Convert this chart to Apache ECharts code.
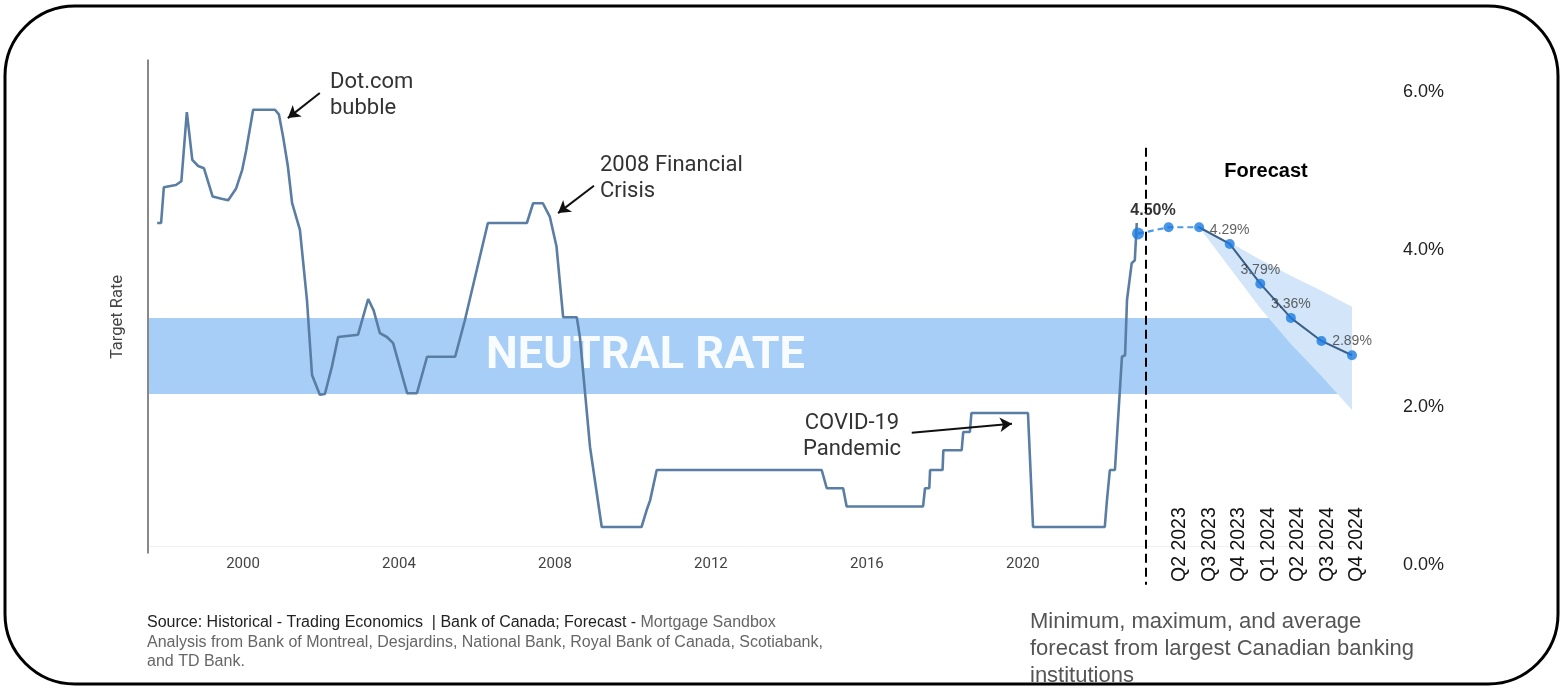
<!DOCTYPE html>
<html>
<head>
<meta charset="utf-8">
<script src="https://cdn.jsdelivr.net/npm/echarts@6/dist/echarts.min.js"></script>
<style>
html,body{margin:0;padding:0;background:#fff;}
#chart{width:1563px;height:688px;}
</style>
</head>
<body>
<div id="chart"></div>
<script>
// ---------- DATA ----------
const histYears = [1997.80, 1997.90, 1997.97, 1998.28, 1998.42, 1998.56, 1998.70, 1998.85, 1999.00, 1999.22, 1999.45, 1999.62, 1999.82, 1999.98, 2000.08, 2000.26, 2000.82, 2000.92, 2001.03, 2001.15, 2001.26, 2001.46, 2001.64, 2001.77, 2001.97, 2002.10, 2002.28, 2002.44, 2002.95, 2003.21, 2003.35, 2003.51, 2003.69, 2003.85, 2004.21, 2004.46, 2004.72, 2005.44, 2005.69, 2005.85, 2006.28, 2007.28, 2007.44, 2007.69, 2007.87, 2008.04, 2008.21, 2008.56, 2008.64, 2008.90, 2009.20, 2010.22, 2010.35, 2010.44, 2010.61, 2014.84, 2014.97, 2015.39, 2015.48, 2017.44, 2017.49, 2017.60, 2017.62, 2017.94, 2017.96, 2018.43, 2018.47, 2018.64, 2018.68, 2020.13, 2020.26, 2022.10, 2022.15, 2022.23, 2022.36, 2022.54, 2022.62, 2022.67, 2022.79, 2022.87, 2022.92];
const histRates = [4.25, 4.25, 4.72, 4.75, 4.80, 5.71, 5.08, 5.00, 4.97, 4.60, 4.57, 4.55, 4.70, 4.95, 5.20, 5.74, 5.74, 5.68, 5.38, 5.00, 4.51, 4.16, 3.24, 2.25, 1.99, 2.00, 2.36, 2.75, 2.78, 3.25, 3.10, 2.80, 2.75, 2.67, 2.01, 2.01, 2.49, 2.49, 2.97, 3.32, 4.25, 4.25, 4.51, 4.51, 4.33, 3.94, 3.01, 3.01, 2.75, 1.30, 0.25, 0.25, 0.47, 0.60, 1.00, 1.00, 0.76, 0.76, 0.52, 0.52, 0.76, 0.76, 1.00, 1.00, 1.26, 1.26, 1.50, 1.50, 1.75, 1.75, 0.25, 0.25, 0.57, 1.00, 1.00, 2.49, 2.51, 3.24, 3.72, 3.76, 4.25];
const yearTicks = [2000, 2004, 2008, 2012, 2016, 2020];
const neutralRange = [2, 3];
const forecastStartYear = 2023.15;

const forecastCats = ['Q1 2023', 'Q2 2023', 'Q3 2023', 'Q4 2023', 'Q1 2024', 'Q2 2024', 'Q3 2024', 'Q4 2024'];
const quarterLabels = ['Q2 2023', 'Q3 2023', 'Q4 2023', 'Q1 2024', 'Q2 2024', 'Q3 2024', 'Q4 2024'];
const forecastAvg = [4.42, 4.50, 4.50, 4.29, 3.79, 3.36, 3.07, 2.89];
const forecastMax = ['-', '-', 4.50, 4.31, 4.09, 3.89, 3.70, 3.50];
const forecastMin = ['-', '-', 4.50, 3.99, 3.48, 3.03, 2.63, 2.20];
const forecastLabels = ['4.50%', '', '', '4.29%', '3.79%', '3.36%', '', '2.89%'];
const rightTicks = [0, 2, 4, 6];

// ---------- BUILD ----------
const histData = histYears.map((y, i) => [y, histRates[i]]);
const bandSpan = forecastMax.map((v, i) => v === '-' ? '-' : +(v - forecastMin[i]).toFixed(2));
const dashedPart = forecastAvg.map((v, i) => i <= 2 ? v : '-');
const solidPart = forecastAvg.map((v, i) => i >= 2 ? v : '-');

const X_MIN = 1997.564, X_MAX = 2028.26;
const SANS = '"Liberation Sans", Arial, sans-serif';
const ROB = 'Roboto, "Liberation Sans", sans-serif';

const chart = echarts.init(document.getElementById('chart'), null, {renderer: 'canvas'});

const option = {
  animation: false,
  backgroundColor: '#ffffff',
  grid: [
    {left: 148, right: 218, top: 59.6, bottom: 96.4, containLabel: false, outerBoundsMode: 'none'},
    {left: 1138, right: 211, top: 108, bottom: 103, containLabel: false, outerBoundsMode: 'none'},
    {left: 1180, right: 206, top: 400, bottom: 103, containLabel: false, outerBoundsMode: 'none'},
    {left: 1395, right: 167, top: 92, bottom: 123, containLabel: false, outerBoundsMode: 'none'}
  ],
  xAxis: [
    {type: 'value', gridIndex: 0, min: X_MIN, max: X_MAX, position: 'bottom', offset: -45.6,
     axisLine: {show: true, onZero: false, lineStyle: {color: '#f0f0f0', width: 1}},
     axisTick: {show: false}, splitLine: {show: false},
     axisLabel: {show: true, customValues: yearTicks, margin: 11, fontSize: 15, color: '#444', fontFamily: ROB,
                 formatter: v => String(Math.round(v))}},
    {type: 'category', gridIndex: 1, data: forecastCats, boundaryGap: false,
     axisLine: {show: false}, axisTick: {show: false}, axisLabel: {show: false}, splitLine: {show: false}},
    {type: 'category', gridIndex: 2, data: quarterLabels, boundaryGap: false,
     axisLine: {show: false}, axisTick: {show: false}, splitLine: {show: false},
     axisLabel: {show: true, inside: true, rotate: 90, margin: 3, fontSize: 19.5, color: '#111', fontFamily: SANS, interval: 0}},
    {type: 'value', gridIndex: 3, show: false, min: 0, max: 1}
  ],
  yAxis: [
    {type: 'value', gridIndex: 0, min: -0.6, max: 6.4, show: false},
    {type: 'value', gridIndex: 1, min: 0, max: 6, show: false},
    {type: 'value', gridIndex: 2, min: 0, max: 1, show: false},
    {type: 'value', gridIndex: 3, min: 0, max: 6, interval: 2, position: 'right',
     axisLine: {show: false}, axisTick: {show: false}, splitLine: {show: false},
     axisLabel: {show: true, margin: 7, fontSize: 18, color: '#222', fontFamily: SANS,
                 formatter: v => v.toFixed(1) + '%'}}
  ],
  series: [
    {
      name: 'Target Rate', type: 'line', xAxisIndex: 0, yAxisIndex: 0, data: histData,
      symbol: 'none', z: 3,
      lineStyle: {color: '#5a7ea3', width: 2.6},
      markArea: {
        silent: true, z: 1,
        itemStyle: {color: '#a6cef7'},
        label: {show: true, position: 'inside', offset: [-101, 1], formatter: '{b}',
                color: 'rgba(255,255,255,0.93)', fontSize: 45, fontWeight: 'bold', fontFamily: ROB},
        data: [[{name: 'NEUTRAL RATE', yAxis: neutralRange[0]}, {yAxis: neutralRange[1]}]]
      },
      markLine: {
        silent: true, symbolSize: [11, 12], label: {show: false}, z: 8,
        data: [
          [{coord: [2001.97, 5.96], symbol: 'none', lineStyle: {color: '#111', width: 2, type: 'solid'}},
           {coord: [2001.15, 5.63], symbol: 'arrow'}],
          [{coord: [2009.00, 4.74], symbol: 'none', lineStyle: {color: '#111', width: 2, type: 'solid'}},
           {coord: [2008.08, 4.38], symbol: 'arrow'}],
          [{coord: [2017.15, 1.49], symbol: 'none', lineStyle: {color: '#111', width: 2, type: 'solid'}},
           {coord: [2019.72, 1.61], symbol: 'arrow'}],
          [{coord: [forecastStartYear, 5.24], symbol: 'none', lineStyle: {color: '#000', width: 2, type: [9, 5]}},
           {coord: [forecastStartYear, -0.51], symbol: 'none'}],
          [{coord: [X_MIN, 6.4], symbol: 'none', lineStyle: {color: '#888', width: 2, type: 'solid'}},
           {coord: [X_MIN, -0.1], symbol: 'none'}]
        ]
      }
    },
    {
      name: 'Forecast min', type: 'line', xAxisIndex: 1, yAxisIndex: 1, stack: 'band',
      data: forecastMin, symbol: 'none', z: 4, lineStyle: {width: 0, opacity: 0}
    },
    {
      name: 'Forecast range', type: 'line', xAxisIndex: 1, yAxisIndex: 1, stack: 'band',
      data: bandSpan, symbol: 'none', z: 4, lineStyle: {width: 0, opacity: 0},
      areaStyle: {color: '#d3e6f9', opacity: 1}
    },
    {
      name: 'Forecast near', type: 'line', xAxisIndex: 1, yAxisIndex: 1, data: dashedPart,
      symbol: 'none', z: 6, lineStyle: {color: '#4d9be6', width: 2.2, type: [6, 4]}
    },
    {
      name: 'Forecast avg', type: 'line', xAxisIndex: 1, yAxisIndex: 1, data: solidPart,
      symbol: 'none', z: 6, lineStyle: {color: '#3b5f88', width: 2}
    },
    {
      name: 'Forecast points', type: 'scatter', xAxisIndex: 1, yAxisIndex: 1, z: 7,
      data: forecastAvg.map((v, i) => ({
        value: v,
        symbolSize: i === 0 ? 12 : 10,
        label: i === 0
          ? {show: true, position: 'top', distance: 5, offset: [15, -4], fontSize: 16, fontWeight: 'bold', color: '#000', fontFamily: SANS}
          : {show: forecastLabels[i] !== '', position: 'top', distance: 2, fontSize: 14, color: '#3a3a3a', fontFamily: SANS}
      })),
      itemStyle: {color: '#1b7be0'},
      label: {formatter: p => forecastLabels[p.dataIndex]}
    }
  ],
  graphic: [
    {type: 'text', x: 118, y: 317, rotation: Math.PI / 2,
     style: {text: 'Target Rate', fontSize: 16.5, fill: '#444', fontFamily: ROB, align: 'center', verticalAlign: 'middle'}},
    {type: 'text', x: 330, y: 95,
     style: {text: 'Dot.com\nbubble', fontSize: 22, lineHeight: 26, fill: '#333', fontFamily: ROB, align: 'left', verticalAlign: 'middle'}},
    {type: 'text', x: 600, y: 178,
     style: {text: '2008 Financial\nCrisis', fontSize: 22, lineHeight: 26, fill: '#333', fontFamily: ROB, align: 'left', verticalAlign: 'middle'}},
    {type: 'text', x: 852, y: 436,
     style: {text: 'COVID-19\nPandemic', fontSize: 22, lineHeight: 26, fill: '#333', fontFamily: ROB, align: 'center', verticalAlign: 'middle'}},
    {type: 'text', x: 1266, y: 171,
     style: {text: 'Forecast', fontSize: 20, fontWeight: 'bold', fill: '#000', fontFamily: SANS, align: 'center', verticalAlign: 'middle'}},
    {type: 'text', x: 147, y: 613,
     style: {
       text: '{a|Source: Historical - Trading Economics  | Bank of Canada; Forecast - }{b|Mortgage Sandbox}\n{b|Analysis from Bank of Montreal, Desjardins, National Bank, Royal Bank of Canada, Scotiabank,}\n{b|and TD Bank.}',
       fontFamily: SANS, fontSize: 16, lineHeight: 19.5,
       rich: {a: {fill: '#222', fontSize: 16, fontFamily: SANS, lineHeight: 19.5}, b: {fill: '#666', fontSize: 16, fontFamily: SANS, lineHeight: 19.5}}
     }},
    {type: 'text', x: 1030, y: 608.5,
     style: {text: 'Minimum, maximum, and average\nforecast from largest Canadian banking\ninstitutions',
             fontSize: 22, lineHeight: 27, fill: '#555', fontFamily: SANS}},
    {type: 'rect', z: 100, shape: {x: 5, y: 6, width: 1553, height: 678, r: 70},
     style: {fill: 'none', stroke: '#000', lineWidth: 3}}
  ]
};
chart.setOption(option);
</script>
</body>
</html>
